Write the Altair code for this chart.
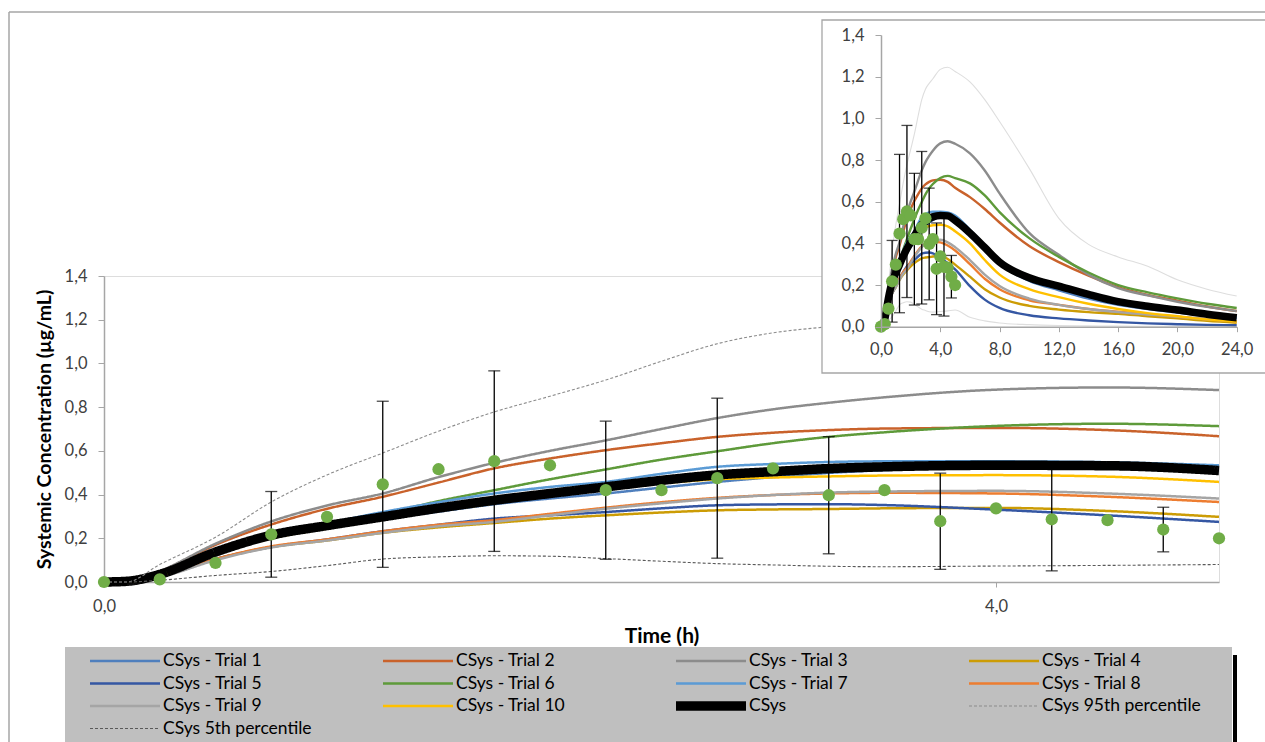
import altair as alt
import pandas as pd

# ---- simulated profiles (h, µg/mL) ----
time_h = [0, 0.1, 0.25, 0.5, 0.75, 1.0, 1.25, 1.5, 1.75, 2.0, 2.25, 2.5, 2.75, 3.0, 3.25, 3.5,
          4.0, 4.5, 5.0, 6, 7, 8, 10, 12, 14, 16, 18, 20, 22, 24]

trial_1 = [0, 0, 0.03, 0.13, 0.205, 0.25, 0.288, 0.322, 0.356, 0.382, 0.405, 0.432, 0.458, 0.48, 0.499,
           0.512, 0.527, 0.528, 0.51, 0.44, 0.37, 0.30, 0.22, 0.175, 0.135, 0.105, 0.085, 0.068, 0.052, 0.04]
trial_2 = [0, 0, 0.048, 0.17, 0.263, 0.335, 0.39, 0.455, 0.52, 0.565, 0.603, 0.635, 0.664, 0.683, 0.695,
           0.702, 0.705, 0.695, 0.667, 0.622, 0.565, 0.50, 0.387, 0.31, 0.245, 0.19, 0.152, 0.125, 0.097, 0.075]
trial_3 = [0, 0, 0.05, 0.175, 0.277, 0.35, 0.405, 0.48, 0.545, 0.60, 0.648, 0.70, 0.75, 0.79, 0.82,
           0.845, 0.88, 0.89, 0.878, 0.832, 0.75, 0.64, 0.45, 0.345, 0.25, 0.185, 0.15, 0.12, 0.095, 0.075]
trial_4 = [0, 0, 0.028, 0.105, 0.16, 0.19, 0.225, 0.25, 0.27, 0.29, 0.305, 0.318, 0.328, 0.332, 0.334,
           0.337, 0.339, 0.325, 0.298, 0.24, 0.18, 0.14, 0.10, 0.082, 0.07, 0.062, 0.05, 0.04, 0.028, 0.019]
trial_5 = [0, 0, 0.028, 0.105, 0.16, 0.195, 0.232, 0.262, 0.29, 0.305, 0.32, 0.337, 0.351, 0.355, 0.356,
           0.352, 0.331, 0.305, 0.275, 0.195, 0.13, 0.09, 0.055, 0.04, 0.03, 0.022, 0.016, 0.012, 0.009, 0.007]
trial_6 = [0, 0, 0.035, 0.135, 0.215, 0.262, 0.31, 0.37, 0.42, 0.47, 0.515, 0.56, 0.598, 0.635, 0.664,
           0.685, 0.714, 0.724, 0.713, 0.688, 0.63, 0.55, 0.425, 0.335, 0.26, 0.20, 0.165, 0.136, 0.11, 0.09]
trial_7 = [0, 0, 0.033, 0.135, 0.215, 0.268, 0.32, 0.365, 0.405, 0.435, 0.458, 0.495, 0.527, 0.54, 0.549,
           0.552, 0.552, 0.548, 0.534, 0.465, 0.39, 0.32, 0.24, 0.19, 0.15, 0.12, 0.095, 0.078, 0.06, 0.045]
trial_8 = [0, 0, 0.025, 0.105, 0.163, 0.195, 0.232, 0.262, 0.283, 0.312, 0.34, 0.365, 0.385, 0.398, 0.405,
           0.408, 0.405, 0.39, 0.366, 0.30, 0.23, 0.18, 0.127, 0.105, 0.085, 0.072, 0.06, 0.048, 0.036, 0.025]
trial_9 = [0, 0, 0.022, 0.10, 0.158, 0.19, 0.225, 0.255, 0.275, 0.305, 0.335, 0.36, 0.382, 0.398, 0.409,
           0.414, 0.417, 0.405, 0.382, 0.32, 0.25, 0.195, 0.135, 0.105, 0.085, 0.07, 0.058, 0.048, 0.036, 0.026]
trial_10 = [0, 0, 0.03, 0.128, 0.2, 0.245, 0.285, 0.325, 0.36, 0.398, 0.428, 0.452, 0.47, 0.478, 0.483,
            0.487, 0.489, 0.482, 0.458, 0.40, 0.32, 0.25, 0.18, 0.142, 0.11, 0.085, 0.065, 0.05, 0.035, 0.025]
csys = [0, 0.003, 0.035, 0.137, 0.214, 0.258, 0.298, 0.338, 0.374, 0.405, 0.435, 0.465, 0.49, 0.505, 0.519,
        0.527, 0.534, 0.532, 0.51, 0.45, 0.38, 0.31, 0.235, 0.195, 0.155, 0.12, 0.098, 0.08, 0.06, 0.043]
csys_p95 = [0, 0, 0.08, 0.205, 0.366, 0.49, 0.59, 0.69, 0.778, 0.85, 0.924, 1.01, 1.09, 1.14, 1.168,
            1.19, 1.235, 1.245, 1.225, 1.175, 1.09, 0.985, 0.76, 0.52, 0.395, 0.335, 0.29, 0.225, 0.18, 0.147]
csys_p5 = [0, 0, 0.008, 0.03, 0.048, 0.075, 0.105, 0.115, 0.12, 0.118, 0.107, 0.095, 0.084, 0.078, 0.072,
           0.07, 0.073, 0.076, 0.08, 0.045, 0.028, 0.018, 0.01, 0.006, 0.004, 0.003, 0.002, 0.002, 0.001, 0.001]

# ---- observed concentrations (mean, SD where reported) ----
obs_time = [0, 0.25, 0.5, 0.75, 1.0, 1.25, 1.5, 1.75, 2.0, 2.25, 2.5, 2.75, 3.0, 3.25, 3.5, 3.75,
            4.0, 4.25, 4.5, 4.75, 5.0]
obs_conc = [0.0, 0.012, 0.087, 0.218, 0.298, 0.447, 0.516, 0.553, 0.534, 0.42, 0.42, 0.475, 0.52,
            0.397, 0.42, 0.278, 0.337, 0.287, 0.283, 0.24, 0.20]
obs_sd = [None, None, None, 0.196, None, 0.38, None, 0.413, None, 0.316, None, 0.366, None,
          0.268, None, 0.22, None, 0.236, None, 0.102, None]

series_names = ["CSys - Trial 1", "CSys - Trial 2", "CSys - Trial 3", "CSys - Trial 4",
                "CSys - Trial 5", "CSys - Trial 6", "CSys - Trial 7", "CSys - Trial 8",
                "CSys - Trial 9", "CSys - Trial 10", "CSys", "CSys 95th percentile",
                "CSys 5th percentile"]
series_values = [trial_1, trial_2, trial_3, trial_4, trial_5, trial_6, trial_7, trial_8,
                 trial_9, trial_10, csys, csys_p95, csys_p5]
series_colors = ["#4F7FBD", "#C9622B", "#8C8C8C", "#CC9C05", "#3557A3", "#5E9A3A",
                 "#5B9BD5", "#ED7D31", "#A5A5A5", "#FFC000", "#000000", "#8C8C8C", "#595959"]
series_dash = [[1, 0]] * 11 + [[3, 2], [3, 2]]
series_width = [2.5] * 10 + [9.5, 1.1, 1.1]

trial_names = series_names[:10]
pct_names = series_names[11:]

rows = []
for name, vals in zip(series_names, series_values):
    for t, v in zip(time_h, vals):
        rows.append({"series": name, "t": t, "c": v})
curves = pd.DataFrame(rows)
main_curves = curves[curves["t"] <= 5]

obs = pd.DataFrame({"t": obs_time, "c": obs_conc, "sd": obs_sd})
bars = obs.dropna().copy()
bars["lo"] = bars["c"] - bars["sd"]
bars["hi"] = bars["c"] + bars["sd"]

FONT = "Lato"
comma_fmt = "replace(format(datum.value, '.1f'), '.', ',')"
AX_GREY = "#A6A6A6"
LABEL_GREY = "#404040"


def main_x(field="t"):
    return alt.X(f"{field}:Q", scale=alt.Scale(domain=[0, 5], nice=False),
                 axis=alt.Axis(values=[0, 4], title="Time (h)", labelExpr=comma_fmt,
                               labelFlush=False, domainColor=AX_GREY, domainWidth=1.5,
                               tickColor=AX_GREY, tickSize=5, labelFontSize=16.5,
                               labelColor=LABEL_GREY, labelPadding=11, titleFontSize=21,
                               titleFontWeight="bold", titlePadding=11, grid=False,
                               labelFont=FONT, titleFont=FONT))


def main_y(field="c"):
    return alt.Y(f"{field}:Q", scale=alt.Scale(domain=[0, 1.4], nice=False),
                 axis=alt.Axis(values=[0, 0.2, 0.4, 0.6, 0.8, 1.0, 1.2, 1.4],
                               title="Systemic Concentration (µg/mL)", labelExpr=comma_fmt,
                               labelFlush=False, domainColor=AX_GREY, domainWidth=1.5,
                               tickColor=AX_GREY, tickSize=6, labelFontSize=16.5,
                               labelColor=LABEL_GREY, labelPadding=11, titleFontSize=19.5,
                               titleFontWeight="bold", titlePadding=10, grid=False,
                               labelFont=FONT, titleFont=FONT))


INSET_X_RANGE = [777, 1132.7]
INSET_Y_RANGE = [50.7, -241]


def inset_x(field="t"):
    return alt.X(f"{field}:Q", scale=alt.Scale(domain=[0, 24], range=INSET_X_RANGE, nice=False),
                 axis=alt.Axis(orient="bottom", offset=-255.3, values=[0, 4, 8, 12, 16, 20, 24],
                               title=None, labelExpr=comma_fmt, labelFlush=False,
                               labelOverlap=False, domainColor=AX_GREY, domainWidth=1.5,
                               tickColor=AX_GREY, tickSize=5, labelFontSize=16.5,
                               labelColor=LABEL_GREY, labelPadding=10, grid=False,
                               labelFont=FONT, zindex=2))


def inset_y(field="c"):
    return alt.Y(f"{field}:Q", scale=alt.Scale(domain=[0, 1.4], range=INSET_Y_RANGE, nice=False),
                 axis=alt.Axis(orient="left", offset=-777,
                               values=[0, 0.2, 0.4, 0.6, 0.8, 1.0, 1.2, 1.4],
                               title=None, labelExpr=comma_fmt, labelFlush=False,
                               domainColor=AX_GREY, domainWidth=1.5, tickColor=AX_GREY,
                               tickSize=6, labelFontSize=16.5, labelColor=LABEL_GREY,
                               labelPadding=11, grid=False, labelFont=FONT, zindex=2))


# legend swatch: a 70 px horizontal stroke, every entry clipped to the same row height
legend_kw = dict(title=None, orient="none", legendX=-14, legendY=375, columns=4,
                 direction="horizontal", columnPadding=61, rowPadding=2.5, gridAlign="all",
                 clipHeight=20, symbolType="M-7,0H7", symbolSize=100, symbolOffset=25,
                 labelFontSize=17.5, labelFont=FONT, labelColor="#000000", labelLimit=400,
                 labelOffset=28, padding=0)


def legend_channels():
    return dict(
        color=alt.Color("series:N", scale=alt.Scale(domain=series_names, range=series_colors),
                        legend=alt.Legend(**legend_kw)),
        strokeDash=alt.StrokeDash("series:N",
                                  scale=alt.Scale(domain=series_names, range=series_dash),
                                  legend=alt.Legend(**legend_kw)),
        strokeWidth=alt.StrokeWidth("series:N",
                                    scale=alt.Scale(type="ordinal", domain=series_names,
                                                    range=series_width),
                                    legend=alt.Legend(**legend_kw)),
    )


one_row = alt.Data(values=[{"k": 0}])

# chart-area border (left and top edges) and legend panel
frame_left = alt.Chart(one_row).mark_rule(color="#A6A6A6", strokeWidth=1.5).encode(
    x=alt.value(-95), y=alt.value(-264), y2=alt.value(470))
frame_top = alt.Chart(one_row).mark_rule(color="#A6A6A6", strokeWidth=1.5).encode(
    x=alt.value(-95), x2=alt.value(1165), y=alt.value(-264))
legend_bg = alt.Chart(one_row).mark_rect(color="#BFBFBF").encode(
    x=alt.value(-39), x2=alt.value(1128), y=alt.value(371), y2=alt.value(470))
legend_shadow = alt.Chart(one_row).mark_rule(color="#000000", strokeWidth=4).encode(
    x=alt.value(1131), y=alt.value(379), y2=alt.value(470))

# ---- main panel ----
main_trials = alt.Chart(main_curves[main_curves["series"].isin(trial_names)]).mark_line(
    interpolate="monotone").encode(x=main_x(), y=main_y(), **legend_channels())
main_mean = alt.Chart(main_curves[main_curves["series"] == "CSys"]).mark_line(
    interpolate="monotone").encode(x=main_x(), y=main_y(), **legend_channels())
main_pct = alt.Chart(main_curves[main_curves["series"].isin(pct_names)]).mark_line(
    interpolate="monotone").encode(x=main_x(), y=main_y(), **legend_channels())

main_err = alt.Chart(bars).mark_rule(color="#000000", strokeWidth=1.3).encode(
    x=main_x(), y=main_y("lo"), y2="hi:Q")
main_cap_hi = alt.Chart(bars).mark_tick(orient="horizontal", size=12, thickness=1.3,
                                         color="#000000").encode(x=main_x(), y=main_y("hi"))
main_cap_lo = alt.Chart(bars).mark_tick(orient="horizontal", size=12, thickness=1.3,
                                         color="#000000").encode(x=main_x(), y=main_y("lo"))
main_pts = alt.Chart(obs).mark_circle(size=150, color="#70AD47", opacity=1).encode(
    x=main_x(), y=main_y())

main = alt.layer(frame_left, frame_top, legend_bg, legend_shadow, main_trials, main_mean,
                 main_pct, main_err, main_cap_hi, main_cap_lo, main_pts)

# ---- inset: full 24 h profile ----
inset_box = alt.Chart(one_row).mark_rect(fill="#FFFFFF", stroke="#A6A6A6", strokeWidth=1.3).encode(
    x=alt.value(718), x2=alt.value(1163), y=alt.value(-256), y2=alt.value(97))
inset_pct = alt.Chart(curves[curves["series"].isin(pct_names)]).mark_line(
    interpolate="monotone", color="#DEDEDE", strokeWidth=1.1).encode(
    x=inset_x(), y=inset_y(), detail="series:N")
inset_trials = alt.Chart(curves[curves["series"].isin(trial_names)]).mark_line(
    interpolate="monotone", strokeWidth=2.4).encode(
    x=inset_x(), y=inset_y(),
    color=alt.Color("series:N", scale=alt.Scale(domain=series_names, range=series_colors),
                    legend=None))
inset_mean = alt.Chart(curves[curves["series"] == "CSys"]).mark_line(
    interpolate="monotone", color="#000000", strokeWidth=7.5).encode(x=inset_x(), y=inset_y())
inset_err = alt.Chart(bars).mark_rule(color="#000000", strokeWidth=1.3).encode(
    x=inset_x(), y=inset_y("lo"), y2="hi:Q")
inset_cap_hi = alt.Chart(bars).mark_tick(orient="horizontal", size=11, thickness=1.3,
                                          color="#000000").encode(x=inset_x(), y=inset_y("hi"))
inset_cap_lo = alt.Chart(bars).mark_tick(orient="horizontal", size=11, thickness=1.3,
                                          color="#000000").encode(x=inset_x(), y=inset_y("lo"))
inset_pts = alt.Chart(obs).mark_circle(size=150, color="#70AD47", opacity=1).encode(
    x=inset_x(), y=inset_y())

inset = alt.layer(inset_box, inset_pct, inset_trials, inset_mean, inset_err, inset_cap_hi,
                  inset_cap_lo, inset_pts)

chart = alt.layer(main, inset).resolve_scale(
    x="independent", y="independent", color="independent",
    strokeDash="independent", strokeWidth="independent"
).properties(
    width=1115, height=306,
    padding={"left": 104, "top": 276, "right": 46, "bottom": 160},
    autosize=alt.AutoSizeParams(type="none"),
    background="#FFFFFF",
).configure_view(stroke=None).configure(font=FONT)

chart.save("out.html", embed_options={"renderer": "svg", "actions": False})
